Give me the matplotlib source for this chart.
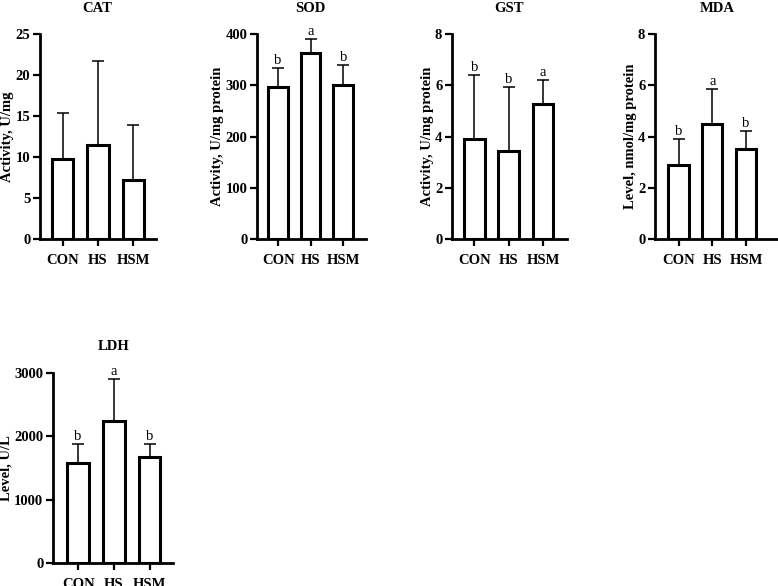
import matplotlib.pyplot as plt

groups = ['CON', 'HS', 'HSM']

cat_mean = [9.7, 11.5, 7.2]
cat_err = [5.7, 10.2, 6.7]
cat_letters = ['', '', '']

sod_mean = [297, 363, 300]
sod_err = [36, 27, 39]
sod_letters = ['b', 'a', 'b']

gst_mean = [3.9, 3.45, 5.25]
gst_err = [2.5, 2.48, 0.95]
gst_letters = ['b', 'b', 'a']

mda_mean = [2.9, 4.5, 3.52]
mda_err = [1.0, 1.37, 0.7]
mda_letters = ['b', 'a', 'b']

ldh_mean = [1580, 2250, 1670]
ldh_err = [300, 650, 210]
ldh_letters = ['b', 'a', 'b']

W, H = 778, 586
plt.rcParams['font.family'] = ['Liberation Serif', 'DejaVu Serif']
plt.rcParams['font.weight'] = 'bold'


def add_ax(fig, left, right, top, bottom):
    return fig.add_axes([left / W, 1 - bottom / H, (right - left) / W, (bottom - top) / H])


def panel(ax, ylabel, mean, err, letters, ymax, step, xlim):
    x = range(len(groups))
    ax.bar(x, mean, width=0.6, color='white', edgecolor='black', linewidth=2.2, zorder=2)
    ax.errorbar(x, mean, yerr=[[0] * len(mean), err], fmt='none', ecolor='black',
                elinewidth=1.1, capsize=4, capthick=1.1, zorder=1)
    for xi, m, e, t in zip(x, mean, err, letters):
        if t:
            ax.text(xi, m + e + ymax * 0.005, t, ha='center', va='bottom',
                    fontsize=10.5, fontweight='normal')
    ax.set_xlim(*xlim)
    ax.set_ylim(0, ymax)
    ax.set_yticks(range(0, int(ymax) + 1, step))
    ax.set_xticks(list(x))
    ax.set_xticklabels(groups, fontsize=10.5, fontweight='bold')
    for lab in ax.get_yticklabels():
        lab.set_fontweight('bold')
        lab.set_fontsize(10.5)
    ax.spines['top'].set_visible(False)
    ax.spines['right'].set_visible(False)
    ax.spines['left'].set_linewidth(2)
    ax.spines['bottom'].set_linewidth(2)
    ax.tick_params(axis='both', width=1.6, length=5, pad=2)
    ax.tick_params(axis='x', pad=6)
    ax.set_ylabel(ylabel, fontsize=10.5, fontweight='bold', labelpad=1)


def title(fig, x, y, s):
    fig.text(x / W, 1 - y / H, s, ha='center', va='center', fontsize=10.5, fontweight='bold')


fig = plt.figure(figsize=(W / 100, H / 100), dpi=100)

ax1 = add_ax(fig, 40, 156, 34, 239)
panel(ax1, 'Activity, U/mg', cat_mean, cat_err, cat_letters, 25, 5, (-0.65, 2.65))
title(fig, 97, 8, 'CAT')

ax2 = add_ax(fig, 257, 366, 34, 239)
panel(ax2, 'Activity, U/mg protein', sod_mean, sod_err, sod_letters, 400, 100, (-0.65, 2.7))
title(fig, 310, 8, 'SOD')

ax3 = add_ax(fig, 452, 567, 34, 239)
panel(ax3, 'Activity, U/mg protein', gst_mean, gst_err, gst_letters, 8, 2, (-0.65, 2.7))
title(fig, 509, 8, 'GST')

ax4 = add_ax(fig, 655, 778, 34, 239)
panel(ax4, 'Level, nmol/mg protein', mda_mean, mda_err, mda_letters, 8, 2, (-0.7, 2.95))
title(fig, 717, 8, 'MDA')

ax5 = add_ax(fig, 53, 173, 373, 563)
panel(ax5, 'Level, U/L', ldh_mean, ldh_err, ldh_letters, 3000, 1000, (-0.7, 2.65))
title(fig, 114, 347, 'LDH')

fig.savefig('out.png', dpi=100)
